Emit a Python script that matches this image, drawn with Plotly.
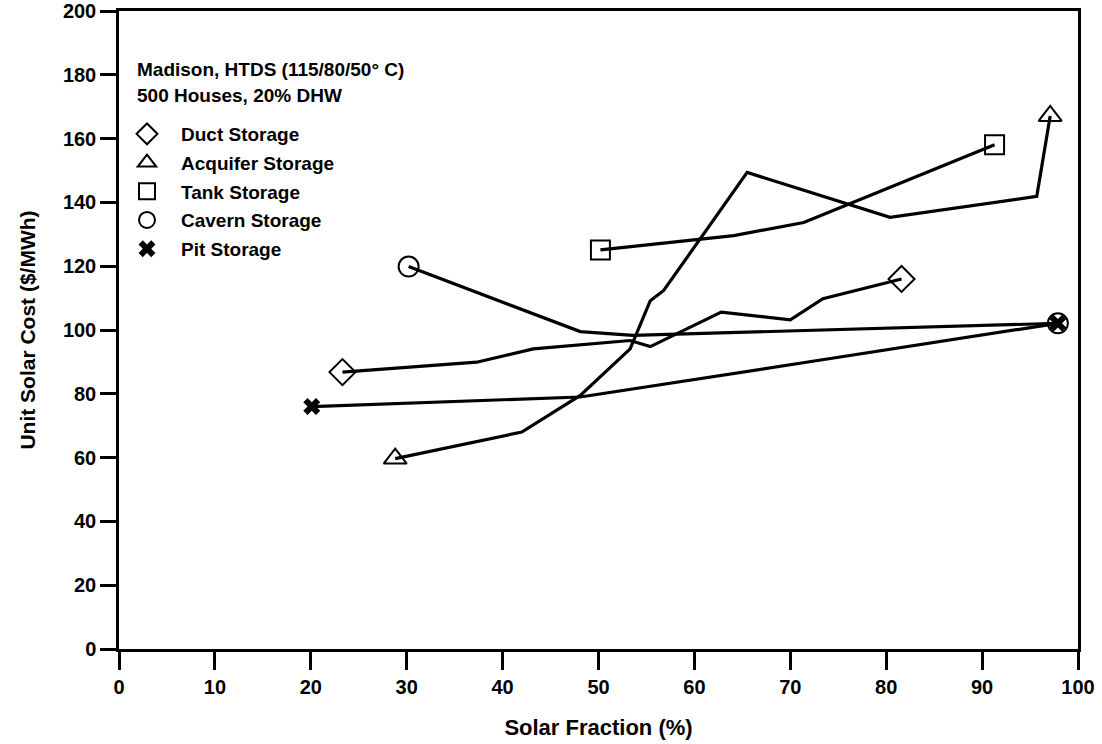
import plotly.graph_objects as go

# ---- data ----
duct_x = [23.3, 37.3, 43.2, 53.3, 55.4, 62.8, 70.0, 73.4, 81.6]
duct_y = [86.8, 89.9, 94.1, 96.7, 94.8, 105.6, 103.2, 109.8, 116.0]

acq_x = [28.8, 42.0, 48.1, 53.3, 55.4, 56.8, 65.5, 80.4, 95.7, 97.1]
acq_y = [59.7, 68.0, 79.5, 94.1, 109.2, 112.4, 149.4, 135.3, 141.9, 167.1]

tank_x = [50.2, 64.1, 71.4, 91.3]
tank_y = [125.1, 129.6, 133.7, 158.1]

cav_x = [30.2, 48.1, 53.6, 97.9]
cav_y = [119.9, 99.5, 98.3, 102.1]

pit_x = [20.1, 48.1, 71.5, 97.9]
pit_y = [76.0, 79.0, 89.8, 102.1]

x_ticks = [0, 10, 20, 30, 40, 50, 60, 70, 80, 90, 100]
y_ticks = [0, 20, 40, 60, 80, 100, 120, 140, 160, 180, 200]

header1 = "Madison, HTDS (115/80/50° C)"
header2 = "500 Houses, 20% DHW"

FONT = "Liberation Sans, Arial, Helvetica, sans-serif"

series = [
    ("Duct Storage", duct_x, duct_y, "diamond-open", 20),
    ("Acquifer Storage", acq_x, acq_y, "triangle-up-open", 20),
    ("Tank Storage", tank_x, tank_y, "square-open", 19),
    ("Cavern Storage", cav_x, cav_y, "circle-open", 20),
    ("Pit Storage", pit_x, pit_y, "x", 15),
]

T, B = 11, 649
PH = B - T

fig = go.Figure()

# data lines
for name, xs, ys, sym, size in series:
    fig.add_trace(go.Scatter(
        x=xs, y=ys, mode="lines", name=name, showlegend=False,
        line=dict(color="black", width=3.2),
        cliponaxis=False, hoverinfo="skip",
    ))

# end-point markers (first and last point of each series)
for name, xs, ys, sym, size in series:
    fig.add_trace(go.Scatter(
        x=[xs[0], xs[-1]], y=[ys[0], ys[-1]], mode="markers", name=name,
        showlegend=False, opacity=1,
        marker=dict(symbol=sym, size=size, color="black", opacity=1,
                    line=dict(color="black", width=2 if sym != "x" else 0)),
        cliponaxis=False,
    ))

# legend entries (symbols only)
for i, (name, xs, ys, sym, size) in enumerate(series):
    fig.add_trace(go.Scatter(
        x=[None], y=[None], mode="markers", name=name, legendgroup="g%d" % i,
        marker=dict(symbol=sym, size=size, color="black",
                    line=dict(color="black", width=2 if sym != "x" else 0)),
    ))

for txt, py in ((header1, 69), (header2, 96)):
    fig.add_annotation(text=txt, xref="paper", yref="paper",
                       x=(135 - 119) / 959, y=(B - py) / PH,
                       xanchor="left", yanchor="middle", showarrow=False,
                       font=dict(family=FONT, size=19, color="black", weight="bold"))

axis_common = dict(
    showline=True, linecolor="black", linewidth=2.5, mirror=True,
    ticks="outside", tickwidth=2.5, tickcolor="black",
    showgrid=False, zeroline=False, automargin=False,
    ticklabeloverflow="allow",
    tickfont=dict(family=FONT, size=20, color="black", weight="bold"),
)

fig.update_layout(
    width=1102, height=744,
    margin=dict(l=119, r=24, t=T, b=744 - B),
    paper_bgcolor="white", plot_bgcolor="white",
    xaxis=dict(range=[0, 100], tickvals=x_ticks, ticklen=18,
               title=dict(text="Solar Fraction (%)", standoff=23,
                          font=dict(family=FONT, size=22, color="black", weight="bold")),
               **axis_common),
    yaxis=dict(range=[0, 200], tickvals=y_ticks, ticklen=16,
               title=dict(text="Unit Solar Cost ($/MWh)", standoff=22,
                          font=dict(family=FONT, size=21, color="black", weight="bold")),
               **axis_common),
    legend=dict(x=(113 - 119) / 959, y=(B - 115) / PH, xanchor="left", yanchor="top",
                bgcolor="rgba(0,0,0,0)", borderwidth=0, itemwidth=58,
                tracegroupgap=1,
                font=dict(family=FONT, size=19, color="black", weight="bold")),
    showlegend=True,
)

fig.write_html("out.html")
